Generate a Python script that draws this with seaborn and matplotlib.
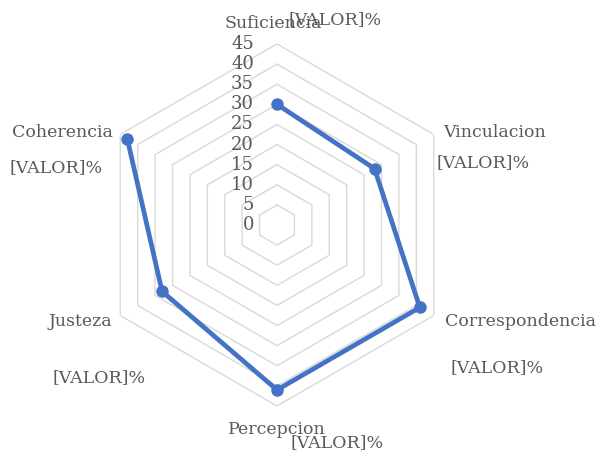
import numpy as np
import matplotlib
matplotlib.use('Agg')
import matplotlib.pyplot as plt
import seaborn as sns

# Datos del gráfico radial
categorias = ['Suficiencia', 'Vinculacion', 'Correspondencia', 'Percepcion', 'Justeza', 'Coherencia']
valores = [30, 28, 41, 41, 33, 43]
ticks_radiales = [0, 5, 10, 15, 20, 25, 30, 35, 40, 45]
etiqueta_valor = '[VALOR]%'

# posiciones de los textos en píxeles (x, y desde arriba)
pos_categorias = [(273, 23), (495, 132), (520, 322), (277, 430), (80, 322), (62, 132)]
pos_valores = [(335, 20), (483, 163), (497, 368), (337, 443), (99, 378), (56, 168)]

W, H = 599, 455
sns.set_theme(style='white')
plt.rcParams['font.family'] = ['DejaVu Serif']
gris = '#595959'
azul = '#4472C4'


def main():
    fig = plt.figure(figsize=(W / 100, H / 100), dpi=100)
    cx, cy, R = 277, 225, 181
    ax = fig.add_axes([(cx - R) / W, (H - cy - R) / H, 2 * R / W, 2 * R / H], projection='polar')
    ax.set_theta_offset(np.pi / 2)
    ax.set_theta_direction(-1)

    n = len(categorias)
    angulos = np.linspace(0, 2 * np.pi, n, endpoint=False).tolist()
    angulos_c = angulos + angulos[:1]

    # rejilla hexagonal
    for r in ticks_radiales[1:]:
        ax.plot(angulos_c, [r] * (n + 1), color='#d9d9d9', lw=1, zorder=1)

    vals_c = valores + valores[:1]
    sns.lineplot(x=angulos_c, y=vals_c, sort=False, ax=ax, color=azul, lw=3.4,
                 marker='o', markersize=9, markeredgewidth=0, zorder=3)

    ax.set_ylim(0, 45)
    ax.set_xticks([])
    ax.set_yticks([])
    ax.grid(False)
    ax.spines['polar'].set_visible(False)
    ax.set_facecolor('none')

    for v in ticks_radiales:
        ax.annotate(str(v), xy=(0, v), xytext=(-23, 0), textcoords='offset pixels',
                    ha='right', va='center', fontsize=13, color=gris)

    for nombre, (x, y) in zip(categorias, pos_categorias):
        fig.text(x / W, 1 - y / H, nombre, ha='center', va='center', fontsize=12.5, color=gris)
    for x, y in pos_valores:
        fig.text(x / W, 1 - y / H, etiqueta_valor, ha='center', va='center', fontsize=12.5, color=gris)

    fig.savefig('out.png', dpi=100)
    plt.close('all')


if __name__ == '__main__':
    main()
